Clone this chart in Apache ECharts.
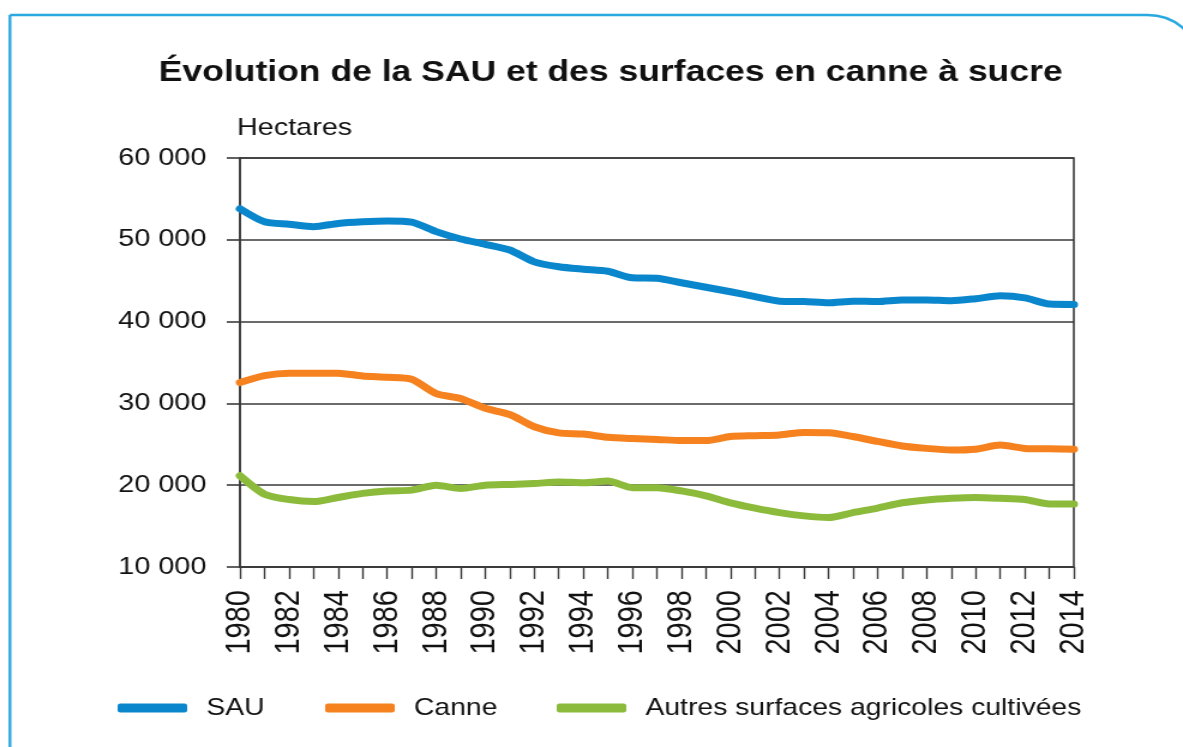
<!DOCTYPE html>
<html>
<head>
<meta charset="utf-8">
<script src="https://cdn.jsdelivr.net/npm/echarts@6/dist/echarts.min.js"></script>
<style>
  html, body { margin: 0; padding: 0; background: #fff; overflow: hidden; }
  /* The chart is laid out on a narrower canvas and widened, which gives the
     broad lettering of the original publication. */
  #wrap { width: 1183px; height: 747px; overflow: hidden; }
  #chart { width: 986px; height: 747px; transform: scaleX(1.19980); transform-origin: 0 0; }
</style>
</head>
<body>
<div id="wrap"><div id="chart"></div></div>
<script>
// Années (1980 à 2014)
const years = [];
for (let y = 1980; y <= 2014; y++) years.push(String(y));

// Surfaces en hectares
const sau = [53800, 52200, 51900, 51600, 52000, 52200, 52300, 52150, 51000, 50100,
             49450, 48750, 47300, 46700, 46400, 46150, 45350, 45300, 44750, 44200,
             43650, 43050, 42500, 42450, 42300, 42500, 42450, 42650, 42650, 42550,
             42800, 43150, 42900, 42150, 42100];
const canne = [32550, 33400, 33700, 33700, 33700, 33350, 33200, 32950, 31200, 30600,
               29400, 28650, 27150, 26400, 26250, 25850, 25700, 25600, 25450, 25450,
               25950, 26050, 26150, 26450, 26400, 25950, 25350, 24800, 24500, 24300,
               24400, 24900, 24500, 24450, 24400];
const autres = [21150, 18900, 18250, 18000, 18500, 19000, 19300, 19400, 20000, 19600,
                20000, 20100, 20200, 20400, 20300, 20500, 19700, 19700, 19300, 18700,
                17850, 17200, 16650, 16250, 16050, 16650, 17200, 17850, 18200, 18400,
                18500, 18400, 18250, 17700, 17700];

const seriesNames = ['SAU', 'Canne', 'Autres surfaces agricoles cultivées'];
const colors = ['#0a86cd', '#f5821f', '#8cbb3c'];

const FONT = '"Liberation Sans", Arial, sans-serif';
const fmt = v => String(v).replace(/\B(?=(\d{3})+(?!\d))/g, ' ');

const chart = echarts.init(document.getElementById('chart'), null, { renderer: 'canvas' });

const legendLefts = [93, 266, 459];

chart.setOption({
  backgroundColor: '#fff',
  animation: false,
  textStyle: { fontFamily: FONT },
  graphic: [
    {
      type: 'rect',
      shape: { x: 8.3, y: 15, width: 988, height: 800, r: [0, 40, 0, 0] },
      style: { fill: 'none', stroke: '#2aa9e0', lineWidth: 2.4 },
      silent: true
    },
    {
      type: 'text',
      x: 509, y: 73,
      style: {
        text: 'Évolution de la SAU et des surfaces en canne à sucre',
        font: 'bold 29.6px ' + FONT,
        fill: '#111',
        textAlign: 'center',
        textVerticalAlign: 'middle'
      }
    },
    {
      type: 'text',
      x: 197.5, y: 128,
      style: {
        text: 'Hectares',
        font: '24px ' + FONT,
        fill: '#111',
        textAlign: 'left',
        textVerticalAlign: 'middle'
      }
    }
  ],
  legend: seriesNames.map((n, i) => ({
    data: [n],
    left: legendLefts[i],
    top: 691,
    icon: 'roundRect',
    itemWidth: 58,
    itemHeight: 9,
    itemGap: 0,
    textStyle: { fontSize: 23.6, color: '#111', fontFamily: FONT, padding: [0, 0, 0, 11] }
  })),
  grid: {
    left: 200, right: 91, top: 158, bottom: 180,
    show: true, borderColor: '#3a3a3a', borderWidth: 1.6
  },
  xAxis: {
    type: 'category',
    data: years,
    boundaryGap: false,
    axisLine: { lineStyle: { color: '#3a3a3a', width: 1.6 } },
    axisTick: { interval: 0, length: 12, lineStyle: { color: '#3a3a3a', width: 1.4 } },
    axisLabel: {
      interval: 1, rotate: 90, margin: 23,
      fontSize: 29, color: '#111', fontFamily: FONT
    },
    splitLine: { show: false }
  },
  yAxis: {
    type: 'value',
    min: 10000, max: 60000, interval: 10000,
    axisLine: { show: true, lineStyle: { color: '#3a3a3a', width: 1.6 } },
    axisTick: { show: true, length: 11, lineStyle: { color: '#3a3a3a', width: 1.6 } },
    axisLabel: { formatter: fmt, fontSize: 24, color: '#111', margin: 28, fontFamily: FONT },
    splitLine: { lineStyle: { color: '#3a3a3a', width: 1.6 } }
  },
  series: [sau, canne, autres].map((d, i) => ({
    name: seriesNames[i],
    type: 'line',
    data: d,
    smooth: 0.25,
    showSymbol: false,
    color: colors[i],
    lineStyle: { width: 7, color: colors[i], cap: 'round', join: 'round' },
    itemStyle: { color: colors[i] }
  }))
});
</script>
</body>
</html>
